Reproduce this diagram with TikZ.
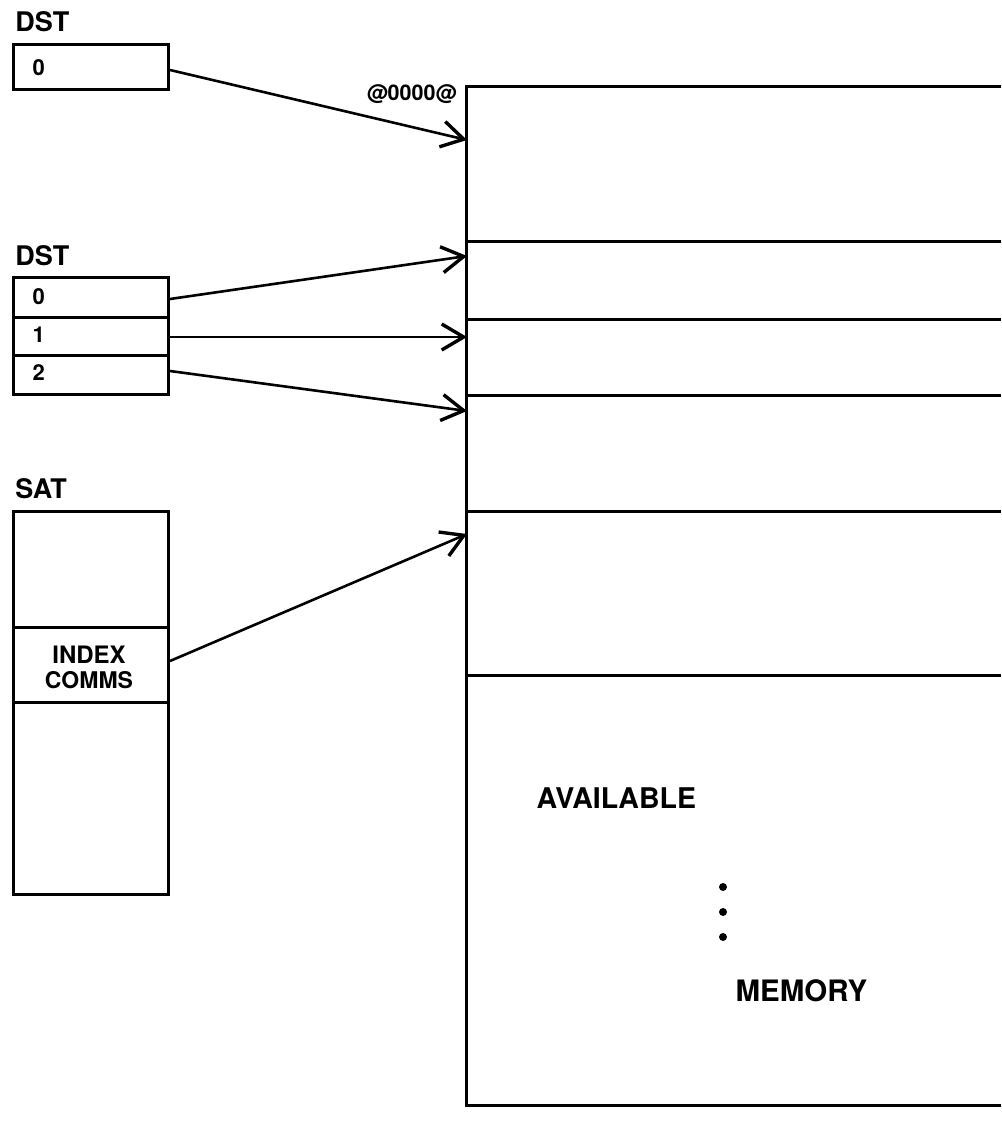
\documentclass[tikz,border=0pt]{standalone}
\usepackage{fontspec}
\setmainfont{TeX Gyre Heros}
\usetikzlibrary{arrows.meta}
\begin{document}
\begin{tikzpicture}[x=1pt,y=-1pt,
  line width=3pt,
  cell/.style={draw,rectangle,inner sep=0pt,minimum width=155pt,line width=3pt},
  lbl/.style={anchor=base west,inner sep=0pt,font=\bfseries\fontsize{27}{30}\selectfont},
  dig/.style={anchor=base west,inner sep=0pt,font=\bfseries\fontsize{22}{25}\selectfont},
  ptr/.style={-{Straight Barb[length=22pt,width=26pt,line width=3.4pt]},line width=2.6pt}]
\useasboundingbox (0,0) rectangle (1001,1134);
% memory column
\draw (1001,87) -- (466,87) -- (466,1105) -- (1001,1105);
\foreach \yy in {241,319,395,511,675} \draw (466,\yy) -- (1001,\yy);
\node[anchor=base east,inner sep=0pt,font=\bfseries\fontsize{21.5}{24}\selectfont] (addr) at (458,101) {@0000@};
\coordinate (t1) at (467,140);
\coordinate (t2) at (467,256);
\coordinate (t3) at (467,337);
\coordinate (t4) at (467,411);
\coordinate (t5) at (467,534);
% first DST
\node[lbl] (dsta) at (14,32) {DST};
\node[cell,minimum height=45pt,anchor=north west] (a0) at (12,43) {};
\node[dig] (a0t) at (31,76) {0};
% second DST
\node[lbl] (dstb) at (14,265) {DST};
\node[cell,minimum height=40pt,anchor=north west] (b0) at (12,276) {};
\node[cell,minimum height=38pt,anchor=north west] (b1) at (12,316) {};
\node[cell,minimum height=39pt,anchor=north west] (b2) at (12,354) {};
\node[dig] (b0t) at (31,304) {0};
\node[dig] (b1t) at (31,342) {1};
\node[dig] (b2t) at (31,380) {2};
% SAT
\node[lbl] (sat) at (14,498) {SAT};
\node[cell,minimum height=116pt,anchor=north west] (s0) at (12,510) {};
\node[cell,minimum height=75pt,anchor=north west] (s1) at (12,626) {};
\node[cell,minimum height=192pt,anchor=north west] (s2) at (12,701) {};
\node[anchor=base,inner sep=0pt,font=\bfseries\fontsize{24}{26}\selectfont] (idx) at (89,663) {INDEX};
\node[anchor=base,inner sep=0pt,font=\bfseries\fontsize{23}{26}\selectfont] (com) at (89,688) {COMMS};
% memory labels
\node[anchor=base west,inner sep=0pt,font=\bfseries\fontsize{28.5}{32}\selectfont] (avail) at (535,808) {AVAILABLE};
\node[anchor=base west,inner sep=0pt,font=\bfseries\fontsize{29.5}{32}\selectfont] (mem) at (734,1001) {MEMORY};
\foreach \yy in {887,912,937} \fill (723,\yy) circle (4pt);
% pointers
\draw[ptr] (a0.east |- 0,70) -- (t1);
\draw[ptr] (b0.east |- 0,299) -- (t2);
\draw[ptr] (b1.east |- 0,337) -- (t3);
\draw[ptr] (b2.east |- 0,371) -- (t4);
\draw[ptr] (s1.east |- 0,661) -- (t5);
\end{tikzpicture}
\end{document}
